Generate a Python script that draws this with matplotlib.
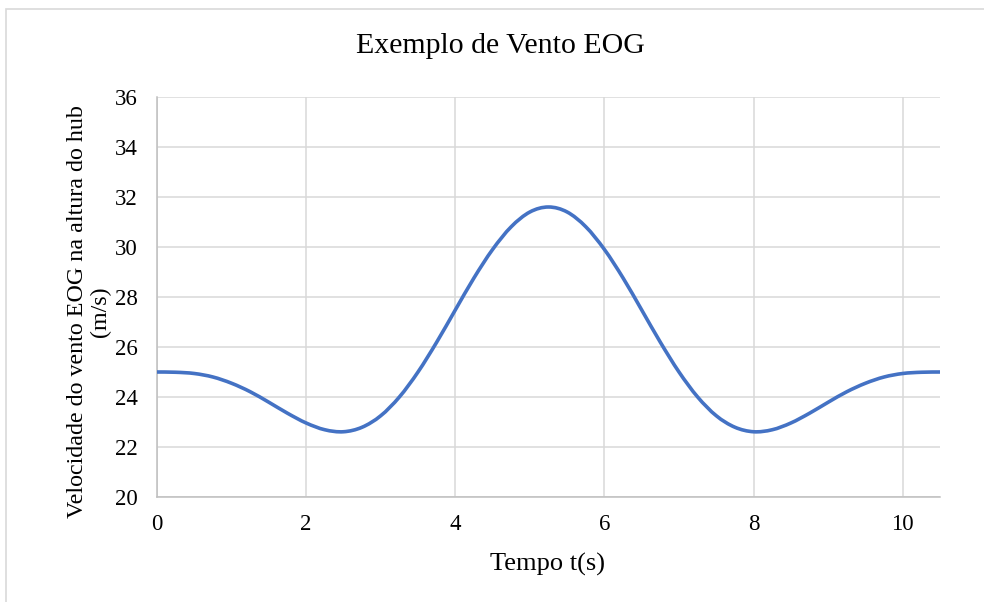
import matplotlib
matplotlib.use("Agg")
import matplotlib.pyplot as plt
import numpy as np
from matplotlib.patches import Rectangle, PathPatch
from matplotlib.path import Path

plt.rcParams['font.family'] = ['Liberation Serif', 'DejaVu Serif']

# tempo (s) e velocidade (m/s)
tempo = [0.0, 0.25, 0.5, 0.75, 1.0, 1.25, 1.5, 1.75, 2.0, 2.25, 2.5,
         2.75, 3.0, 3.25, 3.5, 3.75, 4.0, 4.25, 4.5, 4.75, 5.0, 5.25,
         5.5, 5.75, 6.0, 6.25, 6.5, 6.75, 7.0, 7.25, 7.5, 7.75, 8.0,
         8.25, 8.5, 8.75, 9.0, 9.25, 9.5, 9.75, 10.0, 10.25, 10.5]
velocidade = [25.00, 24.99, 24.94, 24.80, 24.55, 24.21, 23.79, 23.35, 22.96, 22.69, 22.61,
              22.79, 23.25, 24.00, 25.00, 26.19, 27.48, 28.76, 29.90, 30.81, 31.40, 31.60,
              31.40, 30.81, 29.90, 28.76, 27.48, 26.19, 25.00, 24.00, 23.25, 22.79, 22.61,
              22.69, 22.96, 23.35, 23.79, 24.21, 24.55, 24.80, 24.94, 24.99, 25.00]

x_ticks = [0, 2, 4, 6, 8, 10]
y_ticks = [20, 22, 24, 26, 28, 30, 32, 34, 36]


def linha_suave(x, y):
    # curva de Bezier passando pelos pontos (como a "linha suavizada" do Excel)
    pts = np.column_stack([x, y])
    verts = [pts[0]]
    codes = [Path.MOVETO]
    n = len(pts)
    for i in range(n - 1):
        p0 = pts[max(i - 1, 0)]
        p1 = pts[i]
        p2 = pts[i + 1]
        p3 = pts[min(i + 2, n - 1)]
        c1 = p1 + (p2 - p0) / 6.0
        c2 = p2 - (p3 - p1) / 6.0
        verts += [c1, c2, p2]
        codes += [Path.CURVE4] * 3
    return Path(verts, codes)


W, H = 984, 602
fig = plt.figure(figsize=(W / 100, H / 100), dpi=100)
ax = fig.add_axes([157 / W, 1 - 497 / H, (940 - 157) / W, (497 - 97) / H])

ax.add_patch(PathPatch(linha_suave(tempo, velocidade), facecolor='none', edgecolor='#4472C4',
                       linewidth=2.6, capstyle='round', zorder=3))

ax.set_xlim(0, 10.5)
ax.set_ylim(20, 36)
ax.set_xticks(x_ticks)
ax.set_yticks(y_ticks)
ax.grid(True, color='#D9D9D9', linewidth=1.1)
ax.set_axisbelow(True)
for side in ['top', 'right']:
    ax.spines[side].set_visible(False)
for side in ['left', 'bottom']:
    ax.spines[side].set_color('#BFBFBF')
    ax.spines[side].set_linewidth(1.1)
ax.tick_params(length=0, labelsize=16.5, colors='black')
ax.tick_params(axis='y', pad=14)
ax.tick_params(axis='x', pad=12)

fig.text(500 / W, 1 - 46 / H, 'Exemplo de Vento EOG', ha='center', va='center', fontsize=21.5)
fig.text(548 / W, 1 - 564 / H, 'Tempo t(s)', ha='center', va='center', fontsize=19)
fig.text(89 / W, 1 - 312 / H, 'Velocidade do vento EOG na altura do hub\n(m/s)',
         ha='center', va='center', rotation=90, fontsize=17.3, multialignment='center',
         linespacing=1.07)

# borda da área do gráfico
fig.patches.append(Rectangle((6 / W, -0.1), 1.2, 1.1 - 9 / H, transform=fig.transFigure,
                             fill=False, edgecolor='#D9D9D9', linewidth=1.2, clip_on=False))

fig.savefig('out.png', dpi=100)
